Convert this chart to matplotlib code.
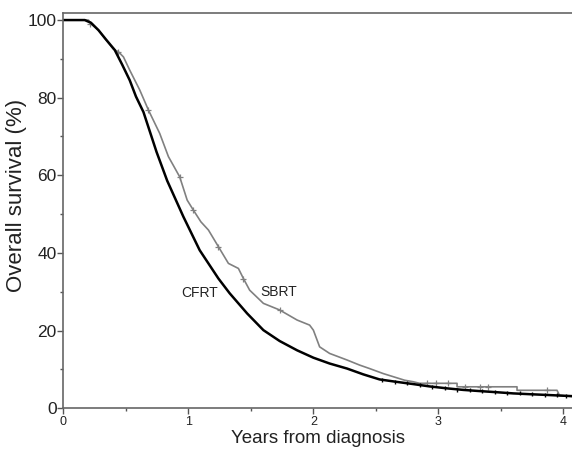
import numpy as np
import matplotlib.pyplot as plt

plt.rcParams['font.family'] = ['Liberation Sans', 'DejaVu Sans']

# CFRT curve (years, % surviving)
cfrt_t = [0, 0.17, 0.22, 0.28, 0.34, 0.41, 0.47, 0.53, 0.58, 0.64, 0.745, 0.83, 0.96,
          1.09, 1.24, 1.33, 1.47, 1.60, 1.73, 1.87, 2.0, 2.13, 2.27, 2.40, 2.53,
          2.66, 2.80, 2.93, 3.07, 3.20, 3.33, 3.47, 3.60, 3.73, 3.87, 4.07]
cfrt_s = [100, 100, 99.3, 97.4, 95, 92.3, 88.5, 84.5, 80.3, 76.3, 66.0, 58.6, 49.3,
          40.7, 33.4, 29.6, 24.4, 20.1, 17.3, 14.9, 13.0, 11.5, 10.2, 8.7, 7.4,
          6.8, 6.2, 5.6, 5.1, 4.7, 4.4, 4.1, 3.8, 3.6, 3.4, 3.1]
cfrt_cens_t = [2.55, 2.65, 2.75, 2.85, 2.95, 3.05, 3.15, 3.25, 3.35, 3.45, 3.55,
               3.65, 3.75, 3.85, 3.95, 4.02]
cfrt_cens_s = [7.3, 6.8, 6.4, 5.9, 5.5, 5.2, 4.8, 4.6, 4.4, 4.1, 3.9,
               3.8, 3.6, 3.4, 3.3, 3.15]

# SBRT curve (years, % surviving)
sbrt_t = [0, 0.2, 0.22, 0.28, 0.33, 0.40, 0.44, 0.48, 0.53, 0.61, 0.68, 0.77, 0.84,
          0.88, 0.93, 0.99, 1.04, 1.10, 1.16, 1.24, 1.32, 1.40, 1.44, 1.49, 1.60,
          1.73, 1.87, 1.97, 2.0, 2.05, 2.13, 2.27, 2.37, 2.45, 2.56, 2.64, 2.73,
          2.80, 2.85, 3.15, 3.15, 3.63, 3.63, 3.95, 3.97, 4.07]
sbrt_s = [100, 100, 99, 97.4, 95.3, 92.5, 91.8, 90.5, 87.1, 82, 76.8, 70.8, 64.8,
          62.5, 59.6, 53.6, 51, 48, 45.9, 41.6, 37.3, 36, 33.4, 30.4, 27,
          25.3, 22.7, 21.4, 20.1, 15.8, 14.1, 12.4, 11.1, 10.2, 8.9, 8.1, 7.2,
          6.8, 6.4, 6.4, 5.5, 5.5, 4.6, 4.6, 3.3, 3.0]
sbrt_cens_t = [0.21, 0.44, 0.68, 0.93, 1.04, 1.24, 1.44, 1.73, 2.91, 2.98,
               3.08, 3.21, 3.33, 3.40, 3.87]
sbrt_cens_s = [99, 91.8, 76.8, 59.6, 51, 41.6, 33.4, 25.3, 6.4, 6.4,
               6.4, 5.5, 5.5, 5.5, 4.6]

fig = plt.figure(figsize=(5.72, 4.53), dpi=100)
ax = fig.add_axes([0.111, 0.099, 0.889, 0.873])

ax.plot(sbrt_t, sbrt_s, color='#808080', lw=1.2)
ax.plot(sbrt_cens_t, sbrt_cens_s, '+', color='#808080', ms=5, mew=0.9)
ax.plot(cfrt_t, cfrt_s, color='black', lw=1.8)
ax.plot(cfrt_cens_t, cfrt_cens_s, '|', color='black', ms=3, mew=1)

ax.text(1.09, 29.6, 'CFRT', fontsize=10, ha='center', va='center', color='#222222')
ax.text(1.72, 29.9, 'SBRT', fontsize=10, ha='center', va='center', color='#222222')

ax.set_xlim(0, 4.07)
ax.set_ylim(0, 101.9)
ax.set_xticks([0, 1, 2, 3, 4])
ax.set_xticks(np.arange(0.5, 4, 1), minor=True)
ax.set_yticks([0, 20, 40, 60, 80, 100])
ax.set_yticks(np.arange(10, 100, 20), minor=True)
ax.tick_params(axis='x', labelsize=9, length=4, width=1, colors='#555555', labelcolor='#222222', pad=2)
ax.tick_params(axis='y', labelsize=12.5, length=4, width=1, colors='#555555', labelcolor='#222222', pad=1)
ax.tick_params(which='minor', length=2, width=1, colors='#555555')

ax.set_xlabel('Years from diagnosis', fontsize=13.5, color='#222222', labelpad=1)
ax.set_ylabel('Overall survival (%)', fontsize=16, color='#222222')
ax.yaxis.set_label_coords(-0.072, 0.537)

for s in ['left', 'bottom', 'top']:
    ax.spines[s].set_color('#666666')
    ax.spines[s].set_linewidth(1.2)
ax.spines['right'].set_visible(False)

fig.savefig('out.png', dpi=100)
